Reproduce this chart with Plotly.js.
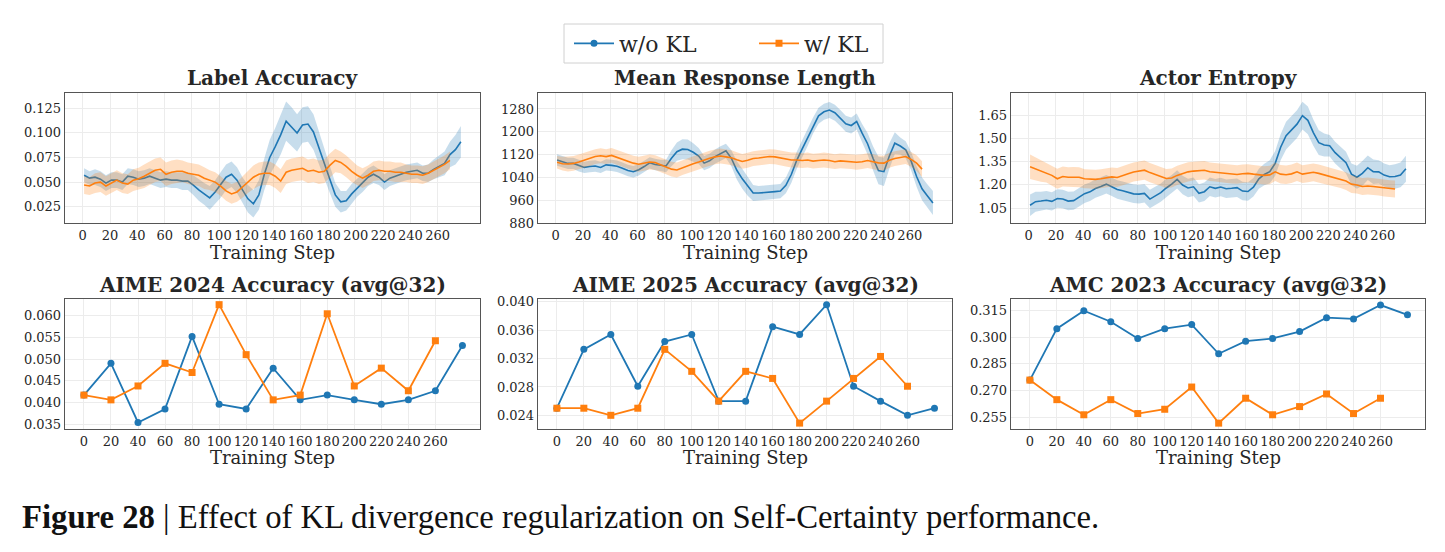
<!DOCTYPE html>
<html>
<head>
<meta charset="utf-8">
<script src="https://cdn.plot.ly/plotly-3.0.1.min.js"></script>
<style>html,body{margin:0;padding:0;background:#fff;}#chart{width:1445px;height:552px;}</style>
</head>
<body>
<div id="chart"></div>
<script>
// ---------- data ----------
const seriesNames = ["w/o KL", "w/ KL"];
const xTickVals = [0,20,40,60,80,100,120,140,160,180,200,220,240,260];

const trainStepsBlue = [1,5,9,13,17,21,25,29,33,37,41,45,49,53,57,61,65,69,73,77,81,85,89,93,97,101,105,109,113,117,121,125,129,133,137,141,145,149,153,157,161,165,169,173,177,181,185,189,193,197,201,205,209,213,217,221,225,229,233,237,241,245,249,253,257,261,265,269,273,277];
const trainStepsOrange = [1,5,9,13,17,21,25,29,33,37,41,45,49,53,57,61,65,69,73,77,81,85,89,93,97,101,105,109,113,117,121,125,129,133,137,141,145,149,153,157,161,165,169,173,177,181,185,189,193,197,201,205,209,213,217,221,225,229,233,237,241,245,249,253,257,261,265,269];

const labelAccBlue = [0.057,0.054,0.055,0.053,0.049,0.052,0.052,0.050,0.056,0.055,
  0.053,0.054,0.056,0.054,0.052,0.053,0.052,0.052,0.051,0.051,
  0.047,0.042,0.038,0.034,0.040,0.047,0.055,0.058,0.052,0.042,
  0.033,0.028,0.037,0.058,0.075,0.086,0.098,0.112,0.106,0.100,
  0.108,0.109,0.101,0.084,0.069,0.053,0.037,0.030,0.031,0.038,
  0.044,0.049,0.055,0.058,0.055,0.050,0.054,0.056,0.058,0.060,
  0.061,0.062,0.059,0.059,0.063,0.066,0.069,0.078,0.083,0.091];
const labelAccBlueSd = [0.007,0.007,0.008,0.008,0.008,0.008,0.008,0.008,0.008,0.008,
  0.008,0.008,0.008,0.008,0.008,0.008,0.008,0.008,0.009,0.009,
  0.010,0.011,0.011,0.012,0.012,0.013,0.013,0.013,0.013,0.013,
  0.014,0.014,0.015,0.016,0.018,0.019,0.020,0.020,0.020,0.019,
  0.018,0.018,0.018,0.017,0.016,0.014,0.012,0.011,0.010,0.010,
  0.009,0.009,0.009,0.009,0.008,0.008,0.008,0.008,0.008,0.008,
  0.008,0.008,0.008,0.009,0.010,0.011,0.012,0.013,0.015,0.016];
const labelAccOrange = [0.047,0.046,0.049,0.050,0.046,0.049,0.052,0.049,0.048,0.052,
  0.0535,0.056,0.059,0.062,0.063,0.058,0.060,0.061,0.061,0.059,
  0.058,0.057,0.054,0.052,0.050,0.046,0.041,0.038,0.040,0.045,
  0.050,0.055,0.058,0.059,0.059,0.056,0.051,0.060,0.062,0.063,
  0.064,0.061,0.062,0.060,0.061,0.067,0.072,0.070,0.066,0.061,
  0.057,0.054,0.057,0.061,0.062,0.061,0.061,0.060,0.060,0.059,
  0.058,0.058,0.057,0.059,0.062,0.065,0.068,0.072];
const labelAccOrangeSd = [0.009,0.009,0.010,0.010,0.010,0.010,0.010,0.010,0.010,0.011,
  0.011,0.012,0.012,0.012,0.012,0.012,0.012,0.012,0.011,0.011,
  0.011,0.011,0.011,0.010,0.010,0.010,0.010,0.010,0.010,0.011,
  0.011,0.012,0.012,0.012,0.012,0.012,0.012,0.012,0.012,0.012,
  0.012,0.012,0.012,0.012,0.012,0.012,0.012,0.011,0.011,0.011,
  0.010,0.010,0.010,0.010,0.010,0.010,0.010,0.010,0.010,0.009,
  0.009,0.009,0.009,0.009,0.009,0.009,0.009,0.009];

const respLenBlue = [1101,1095,1089,1089,1081,1075,1078,1080,1075,1084,
  1082,1079,1072,1064,1060,1067,1078,1091,1085,1082,
  1080,1107,1130,1139,1138,1128,1115,1090,1098,1113,
  1124,1133,1107,1065,1035,1008,985,985,986,988,
  990,992,1012,1050,1100,1140,1180,1222,1256,1270,
  1276,1267,1248,1228,1222,1236,1195,1158,1107,1064,
  1060,1115,1160,1150,1137,1097,1043,1000,975,950];
const respLenBlueSd = [20,20,20,20,20,20,20,20,20,20,
  20,20,20,20,20,20,20,20,20,20,
  22,28,32,35,35,32,28,25,25,25,
  25,25,28,32,35,32,28,25,25,25,
  25,25,28,30,30,30,30,28,28,28,
  28,28,28,28,28,28,32,38,42,48,
  50,45,38,30,30,32,36,40,40,42];
const respLenOrange = [1093,1088,1087,1089,1094,1101,1106,1113,1116,1113,
  1117,1110,1104,1096,1090,1086,1089,1094,1092,1084,
  1077,1069,1066,1074,1080,1088,1094,1101,1107,1112,
  1115,1112,1109,1102,1096,1100,1106,1108,1111,1113,
  1112,1108,1104,1101,1101,1099,1101,1097,1099,1101,
  1099,1095,1098,1096,1095,1093,1095,1099,1095,1091,
  1090,1100,1106,1110,1113,1103,1090,1069];
const respLenOrangeSd = [22,24,26,26,26,26,26,26,26,26,
  26,26,26,26,26,26,26,26,26,26,
  26,26,26,26,26,26,26,26,26,26,
  26,26,26,26,26,26,26,26,26,26,
  26,26,26,26,26,26,26,26,26,26,
  26,26,26,26,26,26,26,26,26,26,
  26,26,26,26,26,26,28,28];

const entropyBlue = [1.068,1.091,1.095,1.100,1.093,1.112,1.108,1.095,1.098,1.120,
  1.143,1.155,1.177,1.190,1.205,1.188,1.170,1.162,1.150,1.142,
  1.140,1.145,1.108,1.130,1.150,1.180,1.205,1.236,1.199,1.180,
  1.188,1.145,1.156,1.188,1.178,1.186,1.175,1.178,1.182,1.160,
  1.157,1.185,1.240,1.268,1.286,1.340,1.445,1.520,1.555,1.595,
  1.650,1.620,1.540,1.475,1.459,1.455,1.410,1.378,1.345,1.270,
  1.250,1.275,1.312,1.286,1.285,1.264,1.253,1.255,1.265,1.305];
const entropyBlueSd = [0.070,0.065,0.060,0.060,0.060,0.060,0.060,0.060,0.060,0.060,
  0.060,0.060,0.060,0.060,0.060,0.060,0.060,0.060,0.060,0.060,
  0.060,0.060,0.060,0.060,0.060,0.060,0.060,0.060,0.060,0.060,
  0.060,0.060,0.060,0.060,0.060,0.060,0.060,0.060,0.060,0.060,
  0.060,0.060,0.065,0.070,0.075,0.080,0.085,0.090,0.090,0.090,
  0.090,0.090,0.085,0.080,0.075,0.070,0.070,0.070,0.070,0.070,
  0.075,0.080,0.080,0.080,0.075,0.075,0.075,0.080,0.080,0.085];
const entropyOrange = [1.318,1.305,1.290,1.280,1.262,1.240,1.255,1.250,1.252,1.250,
  1.240,1.238,1.236,1.240,1.248,1.252,1.248,1.262,1.272,1.284,
  1.290,1.296,1.280,1.265,1.255,1.242,1.245,1.262,1.275,1.285,
  1.290,1.293,1.295,1.286,1.282,1.277,1.272,1.270,1.268,1.273,
  1.275,1.270,1.265,1.262,1.265,1.285,1.270,1.266,1.272,1.285,
  1.270,1.275,1.282,1.275,1.266,1.255,1.247,1.238,1.225,1.205,
  1.200,1.190,1.193,1.190,1.186,1.180,1.175,1.173];
const entropyOrangeSd = [0.080,0.075,0.070,0.065,0.065,0.065,0.065,0.065,0.065,0.065,
  0.062,0.062,0.062,0.062,0.062,0.062,0.062,0.062,0.062,0.062,
  0.062,0.062,0.062,0.062,0.062,0.062,0.062,0.062,0.062,0.062,
  0.060,0.060,0.060,0.060,0.060,0.060,0.060,0.060,0.060,0.060,
  0.060,0.060,0.060,0.060,0.060,0.060,0.060,0.060,0.060,0.060,
  0.058,0.058,0.058,0.058,0.058,0.058,0.058,0.058,0.058,0.058,
  0.055,0.055,0.055,0.055,0.055,0.055,0.055,0.055];

const evalStepsBlue = [0,20,40,60,80,100,120,140,160,180,200,220,240,260,280];
const evalStepsOrange = [0,20,40,60,80,100,120,140,160,180,200,220,240,260];
const aime24Blue = [0.0417,0.0490,0.0354,0.0385,0.0552,0.0396,0.0385,0.0479,0.0406,0.0417,0.0406,0.0396,0.0406,0.0427,0.0531];
const aime24Orange = [0.0417,0.0406,0.0438,0.0490,0.0469,0.0625,0.0510,0.0406,0.0417,0.0604,0.0438,0.0479,0.0427,0.0542];
const aime25Blue = [0.0250,0.0333,0.0354,0.0281,0.0344,0.0354,0.0260,0.0260,0.0365,0.0354,0.0396,0.0281,0.0260,0.0240,0.0250];
const aime25Orange = [0.0250,0.0250,0.0240,0.0250,0.0333,0.0302,0.0260,0.0302,0.0292,0.0229,0.0260,0.0292,0.0323,0.0281];
const amc23Blue = [0.2758,0.3047,0.3148,0.3086,0.2992,0.3047,0.3070,0.2906,0.2977,0.2992,0.3031,0.3109,0.3102,0.3180,0.3125];
const amc23Orange = [0.2758,0.2648,0.2563,0.2648,0.2570,0.2594,0.2719,0.2516,0.2656,0.2563,0.2609,0.2680,0.2570,0.2656];

const panelTitles = ["Label Accuracy","Mean Response Length","Actor Entropy",
  "AIME 2024 Accuracy (avg@32)","AIME 2025 Accuracy (avg@32)","AMC 2023 Accuracy (avg@32)"];
const xLabel = "Training Step";
const caption = "<b>Figure 28</b> | Effect of KL divergence regularization on Self-Certainty performance.";

// ---------- styling ----------
const BLUE = "#1f77b4", ORANGE = "#ff7f0e";
const BLUE_FILL = "rgba(31,119,180,0.25)", ORANGE_FILL = "rgba(255,127,14,0.25)";
const FONT = "DejaVu Serif";
const TXT = "#262626";
const W = 1445, H = 552;

const colX = [[65,480],[538,952],[1011,1425]];
const rowY = [[93,223],[299,429]];

const traces = [];
function band(x, m, sd, axn, fill) {
  const up = m.map((v,i)=>v+sd[i]);
  const lo = m.map((v,i)=>v-sd[i]);
  traces.push({x: x.concat(x.slice().reverse()), y: up.concat(lo.slice().reverse()),
    type:"scatter", mode:"lines", fill:"toself", fillcolor: fill, line:{width:0, color:fill},
    hoverinfo:"skip", showlegend:false, xaxis:"x"+axn, yaxis:"y"+axn});
}
function line(x, y, axn, color) {
  traces.push({x:x, y:y, type:"scatter", mode:"lines", line:{color:color, width:1.6},
    showlegend:false, xaxis:"x"+axn, yaxis:"y"+axn});
}
function markLine(x, y, axn, color, symbol, name, leg) {
  const t = {x:x, y:y, type:"scatter", mode:"lines+markers", name:name,
    line:{color:color, width:1.8}, marker:{color:color, symbol:symbol, size:7},
    showlegend: !!leg, xaxis:"x"+axn, yaxis:"y"+axn};
  if (leg) t.legend = leg;
  traces.push(t);
}

band(trainStepsBlue, labelAccBlue, labelAccBlueSd, "", BLUE_FILL);
line(trainStepsBlue, labelAccBlue, "", BLUE);
band(trainStepsOrange, labelAccOrange, labelAccOrangeSd, "", ORANGE_FILL);
line(trainStepsOrange, labelAccOrange, "", ORANGE);

band(trainStepsBlue, respLenBlue, respLenBlueSd, "2", BLUE_FILL);
line(trainStepsBlue, respLenBlue, "2", BLUE);
band(trainStepsOrange, respLenOrange, respLenOrangeSd, "2", ORANGE_FILL);
line(trainStepsOrange, respLenOrange, "2", ORANGE);

band(trainStepsBlue, entropyBlue, entropyBlueSd, "3", BLUE_FILL);
line(trainStepsBlue, entropyBlue, "3", BLUE);
band(trainStepsOrange, entropyOrange, entropyOrangeSd, "3", ORANGE_FILL);
line(trainStepsOrange, entropyOrange, "3", ORANGE);

markLine(evalStepsBlue, aime24Blue, "4", BLUE, "circle", seriesNames[0], "legend");
markLine(evalStepsOrange, aime24Orange, "4", ORANGE, "square", seriesNames[1], "legend2");
markLine(evalStepsBlue, aime25Blue, "5", BLUE, "circle", seriesNames[0], null);
markLine(evalStepsOrange, aime25Orange, "5", ORANGE, "square", seriesNames[1], null);
markLine(evalStepsBlue, amc23Blue, "6", BLUE, "circle", seriesNames[0], null);
markLine(evalStepsOrange, amc23Orange, "6", ORANGE, "square", seriesNames[1], null);

const yCfg = [
  {range:[0.0084,0.1406], tickvals:[0.025,0.05,0.075,0.1,0.125], fmt:".3f"},
  {range:[880,1336], tickvals:[880,960,1040,1120,1200,1280], fmt:"d"},
  {range:[0.9525,1.7975], tickvals:[1.05,1.2,1.35,1.5,1.65], fmt:".2f"},
  {range:[0.0339,0.0638], tickvals:[0.035,0.04,0.045,0.05,0.055,0.06], fmt:".3f"},
  {range:[0.02207,0.0404], tickvals:[0.024,0.028,0.032,0.036,0.04], fmt:".3f"},
  {range:[0.2483,0.3214], tickvals:[0.255,0.27,0.285,0.3,0.315], fmt:".3f"}
];

const legBase = {orientation:"h", xanchor:"left", yanchor:"middle", y:(H-43.5)/H,
  font:{family:FONT, size:22, color:TXT}, borderwidth:0, bgcolor:"rgba(0,0,0,0)", itemwidth:40};

const layout = {
  width: W, height: H, margin:{l:0,r:0,t:0,b:0},
  paper_bgcolor:"#fff", plot_bgcolor:"#fff",
  font:{family:FONT, color:TXT, size:13},
  showlegend:true,
  legend: Object.assign({}, legBase, {x:569/W}),
  legend2: Object.assign({}, legBase, {x:754/W}),
  shapes:[{type:"rect", xref:"paper", yref:"paper", x0:564/W, x1:883/W, y0:(H-63)/H, y1:(H-24)/H,
    line:{color:"#d0d0d0", width:1}, fillcolor:"#fff", layer:"below"}],
  annotations: []
};

for (let i=0;i<6;i++) {
  const r = Math.floor(i/3), c = i%3;
  const suf = i===0 ? "" : String(i+1);
  const top = r===0;
  layout["xaxis"+suf] = {
    domain:[colX[c][0]/W, colX[c][1]/W], anchor:"y"+suf,
    range: top ? [-13,291] : [-14,293],
    tickvals: xTickVals, ticks:"", showgrid:true, gridcolor:"#ececec", gridwidth:1,
    zeroline:false, showline:true, mirror:true, linecolor:"#555", linewidth:1.3,
    tickfont:{family:FONT, size:13, color:TXT}, fixedrange:true
  };
  layout["yaxis"+suf] = {
    domain:[(H-rowY[r][1])/H, (H-rowY[r][0])/H], anchor:"x"+suf,
    range: yCfg[i].range, tickvals: yCfg[i].tickvals, tickformat: yCfg[i].fmt,
    ticks:"", showgrid:true, gridcolor:"#ececec", gridwidth:1,
    zeroline:false, showline:true, mirror:true, linecolor:"#555", linewidth:1.3,
    tickfont:{family:FONT, size:13, color:TXT}, fixedrange:true
  };
  const cx = (colX[c][0]+colX[c][1])/2/W;
  layout.annotations.push({text:"<b>"+panelTitles[i]+"</b>", xref:"paper", yref:"paper",
    x:cx, y: top ? (H-78)/H : (H-285)/H, xanchor:"center", yanchor:"middle", showarrow:false,
    font:{family:FONT, size:20, color:TXT}});
  layout.annotations.push({text:xLabel, xref:"paper", yref:"paper",
    x:cx, y: top ? (H-252)/H : (H-457)/H, xanchor:"center", yanchor:"middle", showarrow:false,
    font:{family:FONT, size:18, color:TXT}});
}
layout.annotations.push({text:caption, xref:"paper", yref:"paper", x:20/W, y:(H-517)/H,
  xanchor:"left", yanchor:"middle", showarrow:false,
  font:{family:"Liberation Serif", size:32.7, color:"#111"}});

Plotly.newPlot("chart", traces, layout, {displayModeBar:false, staticPlot:true});
</script>
</body>
</html>
